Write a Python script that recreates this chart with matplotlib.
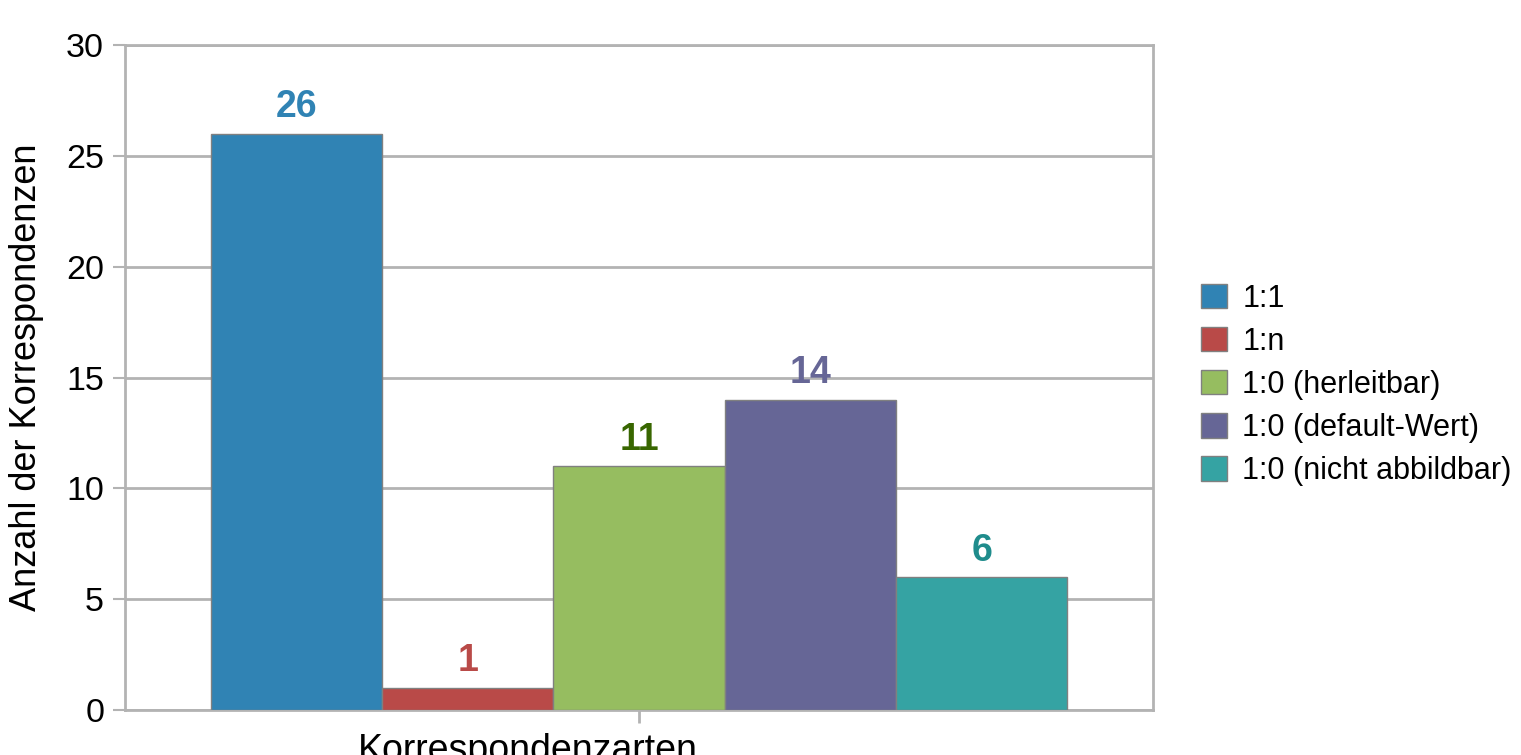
import numpy as np
import matplotlib.pyplot as plt

plt.rcParams['font.family'] = ['Liberation Sans', 'DejaVu Sans']

categories = ['1:1', '1:n', '1:0 (herleitbar)', '1:0 (default-Wert)', '1:0 (nicht abbildbar)']
values = [26, 1, 11, 14, 6]
bar_colors = ['#3083b4', '#b94a48', '#96bd60', '#666696', '#35a3a3']
label_colors = ['#3083b4', '#b94a48', '#386600', '#666696', '#1f8c8c']

fig = plt.figure(figsize=(15.21, 7.55), dpi=100)
ax = fig.add_axes([125 / 1521, 1 - 710 / 755, 1028 / 1521, 665 / 755])

pos = np.arange(len(values))
for i, (cat, v) in enumerate(zip(categories, values)):
    ax.bar(pos[i], v, width=1.0, color=bar_colors[i], edgecolor='#808080',
           linewidth=1, label=cat, zorder=3)
    ax.text(pos[i], v + 0.38, str(v), ha='center', va='bottom', fontsize=27,
            fontweight='bold', color=label_colors[i])

ax.set_xlim(-1, 5)
ax.set_ylim(0, 30)
ax.set_yticks(range(0, 31, 5))
ax.set_xticks([2])
ax.set_xticklabels([''])
ax.yaxis.grid(True, color='#b3b3b3', linewidth=2, zorder=0)
for s in ax.spines.values():
    s.set_color('#b3b3b3')
    s.set_linewidth(2)
ax.tick_params(axis='y', colors='#b3b3b3', length=9, width=1.5, labelsize=24.5,
               labelcolor='black', pad=6)
ax.tick_params(axis='x', colors='#b3b3b3', length=9, width=2)

ax.set_ylabel('Anzahl der Korrespondenzen', fontsize=26, labelpad=16)
fig.text(528 / 1521, -6 / 755, 'Korrespondenzarten', fontsize=27,
         ha='center', va='baseline')

leg = ax.legend(loc='center left', bbox_to_anchor=(1.02, 0.489), frameon=False,
                fontsize=22, handlelength=0.85, handleheight=0.85,
                handletextpad=0.5, labelspacing=0.43)
for h in leg.legend_handles:
    h.set_edgecolor('#808080')

fig.savefig('out.png', dpi=100)
